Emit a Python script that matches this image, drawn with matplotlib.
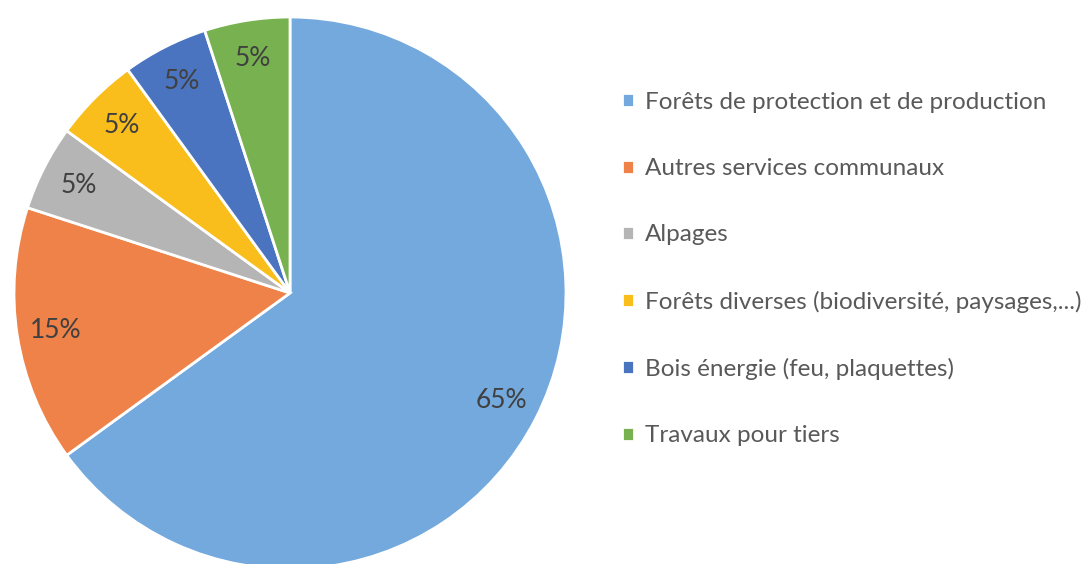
import matplotlib

matplotlib.use("Agg")
import matplotlib.pyplot as plt

categories = [
    "Forêts de protection et de production",
    "Autres services communaux",
    "Alpages",
    "Forêts diverses (biodiversité, paysages,...)",
    "Bois énergie (feu, plaquettes)",
    "Travaux pour tiers",
]
shares = [65, 15, 5, 5, 5, 5]
colors = ["#74A9DD", "#EE8248", "#B5B5B5", "#F9BE1C", "#4A74BF", "#78B250"]

plt.rcParams["font.family"] = ["Lato", "DejaVu Sans"]

fig = plt.figure(figsize=(10.9, 5.64), dpi=100)
ax = fig.add_axes([14 / 1090, -5 / 564, 552 / 1090, 552 / 564])

wedges, _, autotexts = ax.pie(
    shares,
    colors=colors,
    startangle=90,
    counterclock=False,
    radius=1.0,
    autopct="%1.0f%%",
    pctdistance=0.86,
    wedgeprops=dict(edgecolor="white", linewidth=2),
    textprops=dict(fontsize=19, color="#404040"),
)
ax.set_xlim(-1, 1)
ax.set_ylim(-1, 1)
ax.set_aspect("equal")
ax.axis("off")

fig.legend(
    wedges,
    categories,
    loc="upper left",
    bbox_to_anchor=(622 / 1090, 1 - 92 / 564),
    frameon=False,
    fontsize=17.5,
    labelcolor="#595959",
    handlelength=0.5,
    handleheight=0.5,
    handletextpad=0.45,
    labelspacing=1.86,
    borderaxespad=0,
    borderpad=0,
)

fig.savefig("out.png", dpi=100)
